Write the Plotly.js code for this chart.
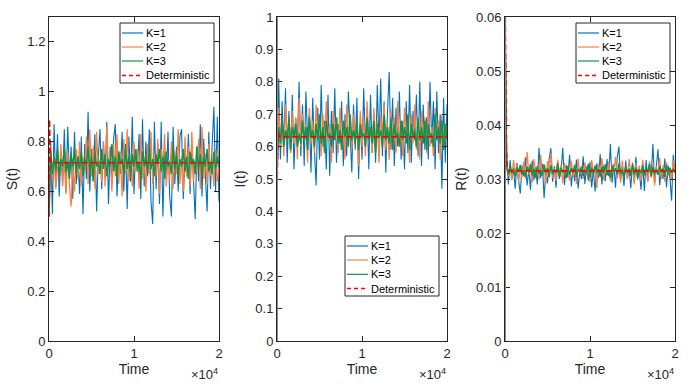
<!DOCTYPE html>
<html>
<head>
<meta charset="utf-8">
<script src="https://cdn.plot.ly/plotly-3.0.1.min.js"></script>
<style>
  body { margin: 0; background: #fff; }
  #plot { width: 694px; height: 389px; }
</style>
</head>
<body>
<div id="plot"></div>
<script>
// time grid: samples every 200 time units from 0 to 20000 (x0/dx on traces)
const tStep = 200;
const xTickVals = [0, 10000, 20000];
const xTickText = ['0', '1', '2'];
const legendNames = ['K=1', 'K=2', 'K=3', 'Deterministic'];

// ---- S(t) ----
const sK1 = [0.50,
  0.80,0.51,0.87,0.62,0.83,0.58,0.76,0.64,0.85,0.60,
  0.86,0.66,0.78,0.57,0.84,0.63,0.74,0.59,0.82,0.51,
  0.79,0.65,0.92,0.60,0.77,0.68,0.83,0.52,0.74,0.85,
  0.61,0.80,0.66,0.88,0.55,0.78,0.63,0.81,0.87,0.58,
  0.76,0.67,0.84,0.60,0.79,0.53,0.82,0.64,0.90,0.59,
  0.77,0.69,0.83,0.57,0.89,0.62,0.80,0.66,0.85,0.56,
  0.47,0.88,0.61,0.79,0.55,0.88,0.50,0.76,0.65,0.84,
  0.58,0.50,0.86,0.63,0.78,0.60,0.82,0.85,0.57,0.74,
  0.66,0.83,0.59,0.80,0.62,0.49,0.78,0.64,0.87,0.58,
  0.81,0.67,0.52,0.84,0.61,0.79,0.94,0.60,0.90,0.56];
const sK2 = [0.50,
  0.78,0.64,0.74,0.61,0.70,0.66,0.79,0.62,0.73,0.59,
  0.76,0.63,0.54,0.71,0.60,0.77,0.65,0.80,0.62,0.74,
  0.68,0.82,0.63,0.85,0.66,0.78,0.61,0.84,0.67,0.73,
  0.64,0.80,0.62,0.86,0.69,0.75,0.60,0.79,0.66,0.83,
  0.63,0.76,0.58,0.81,0.67,0.85,0.64,0.72,0.62,0.80,
  0.68,0.77,0.61,0.83,0.65,0.74,0.60,0.79,0.67,0.84,
  0.63,0.75,0.66,0.81,0.59,0.77,0.69,0.83,0.62,0.73,
  0.65,0.80,0.61,0.76,0.67,0.85,0.63,0.74,0.60,0.82,
  0.66,0.78,0.62,0.84,0.64,0.72,0.68,0.81,0.61,0.86,
  0.65,0.75,0.63,0.79,0.66,0.73,0.62,0.77,0.64,0.70];
const sK3 = [0.50,
  0.76,0.67,0.74,0.69,0.77,0.66,0.73,0.70,0.78,0.68,
  0.72,0.65,0.75,0.70,0.77,0.67,0.74,0.69,0.76,0.66,
  0.73,0.71,0.78,0.68,0.74,0.64,0.76,0.70,0.72,0.67,
  0.77,0.69,0.75,0.66,0.73,0.70,0.79,0.68,0.74,0.65,
  0.76,0.71,0.73,0.67,0.78,0.69,0.74,0.66,0.75,0.70,
  0.77,0.68,0.72,0.65,0.76,0.70,0.74,0.67,0.78,0.69,
  0.73,0.66,0.75,0.71,0.77,0.68,0.74,0.65,0.76,0.70,
  0.72,0.67,0.78,0.69,0.75,0.66,0.73,0.70,0.77,0.68,
  0.74,0.65,0.76,0.71,0.73,0.67,0.78,0.69,0.75,0.66,
  0.74,0.70,0.77,0.68,0.72,0.67,0.76,0.69,0.74,0.70];
const sDetT = [0, 60, 150, 300, 20000];
const sDet = [0.50, 0.89, 0.74, 0.715, 0.715];

// ---- I(t) ----
const iK1 = [0.50,
  0.81,0.56,0.74,0.60,0.78,0.55,0.71,0.58,0.76,0.53,
  0.69,0.61,0.80,0.57,0.73,0.54,0.77,0.62,0.70,0.52,
  0.75,0.59,0.48,0.72,0.56,0.79,0.60,0.68,0.53,0.76,
  0.51,0.71,0.58,0.78,0.55,0.67,0.61,0.74,0.54,0.70,
  0.57,0.77,0.62,0.52,0.73,0.59,0.75,0.50,0.69,0.56,
  0.78,0.60,0.72,0.53,0.76,0.58,0.70,0.55,0.79,0.61,
  0.81,0.57,0.74,0.52,0.71,0.83,0.59,0.75,0.54,0.72,
  0.60,0.77,0.56,0.68,0.53,0.74,0.58,0.79,0.55,0.71,
  0.62,0.76,0.57,0.80,0.54,0.73,0.59,0.69,0.56,0.80,
  0.61,0.74,0.53,0.77,0.58,0.70,0.47,0.75,0.55,0.73];
const iK2 = [0.50,
  0.72,0.60,0.68,0.57,0.73,0.62,0.66,0.58,0.71,0.61,
  0.69,0.56,0.75,0.60,0.70,0.63,0.67,0.55,0.72,0.61,
  0.68,0.58,0.73,0.64,0.66,0.57,0.70,0.60,0.74,0.62,
  0.67,0.55,0.71,0.63,0.69,0.58,0.72,0.61,0.66,0.56,
  0.73,0.62,0.68,0.59,0.70,0.64,0.67,0.54,0.71,0.60,
  0.69,0.57,0.74,0.62,0.66,0.58,0.72,0.61,0.68,0.55,
  0.70,0.63,0.73,0.59,0.67,0.56,0.71,0.62,0.69,0.58,
  0.74,0.60,0.66,0.57,0.72,0.63,0.68,0.55,0.70,0.61,
  0.73,0.59,0.67,0.56,0.71,0.62,0.69,0.58,0.74,0.60,
  0.66,0.57,0.72,0.63,0.68,0.56,0.70,0.61,0.67,0.60];
const iK3 = [0.52,
  0.66,0.61,0.68,0.60,0.65,0.62,0.69,0.59,0.66,0.63,
  0.67,0.60,0.64,0.61,0.68,0.62,0.66,0.59,0.69,0.63,
  0.65,0.60,0.67,0.62,0.70,0.61,0.66,0.58,0.68,0.63,
  0.64,0.60,0.67,0.62,0.69,0.61,0.65,0.59,0.68,0.63,
  0.66,0.60,0.70,0.62,0.65,0.61,0.68,0.59,0.67,0.63,
  0.64,0.60,0.69,0.62,0.66,0.61,0.68,0.58,0.67,0.63,
  0.65,0.60,0.70,0.62,0.66,0.61,0.69,0.59,0.67,0.63,
  0.64,0.60,0.68,0.62,0.66,0.61,0.70,0.59,0.67,0.63,
  0.65,0.60,0.69,0.62,0.66,0.61,0.68,0.59,0.67,0.63,
  0.64,0.60,0.70,0.62,0.66,0.61,0.68,0.59,0.67,0.62];
const iDetT = [0, 40, 120, 300, 20000];
const iDet = [0.45, 0.60, 0.645, 0.63, 0.63];

// ---- R(t) ----
const rK1 = [0.060,
  0.0345,0.0290,0.0335,0.0300,0.0320,0.0282,0.0330,0.0296,0.0273,0.0325,
  0.0305,0.0340,0.0288,0.0318,0.0280,0.0334,0.0298,0.0322,0.0290,0.0358,
  0.0302,0.0328,0.0265,0.0315,0.0292,0.0338,0.0357,0.0295,0.0324,0.0284,
  0.0330,0.0300,0.0317,0.0358,0.0289,0.0326,0.0303,0.0345,0.0286,0.0320,
  0.0296,0.0336,0.0282,0.0314,0.0300,0.0342,0.0291,0.0323,0.0297,0.0332,
  0.0285,0.0318,0.0277,0.0329,0.0302,0.0346,0.0290,0.0325,0.0296,0.0337,
  0.0305,0.0365,0.0293,0.0327,0.0284,0.0340,0.0360,0.0298,0.0321,0.0287,
  0.0334,0.0301,0.0319,0.0283,0.0330,0.0294,0.0341,0.0299,0.0316,0.0280,
  0.0328,0.0278,0.0335,0.0297,0.0322,0.0306,0.0365,0.0292,0.0326,0.0355,
  0.0288,0.0319,0.0300,0.0338,0.0285,0.0324,0.0302,0.0260,0.0345,0.0310];
const rK2 = [0.060,
  0.0330,0.0305,0.0322,0.0298,0.0335,0.0310,0.0326,0.0295,0.0318,0.0304,
  0.0332,0.0300,0.0350,0.0308,0.0324,0.0293,0.0337,0.0311,0.0320,0.0299,
  0.0345,0.0306,0.0327,0.0290,0.0333,0.0312,0.0348,0.0302,0.0321,0.0296,
  0.0336,0.0309,0.0325,0.0292,0.0330,0.0314,0.0319,0.0297,0.0334,0.0305,
  0.0323,0.0291,0.0338,0.0310,0.0320,0.0300,0.0331,0.0307,0.0326,0.0294,
  0.0335,0.0311,0.0318,0.0283,0.0328,0.0304,0.0339,0.0298,0.0322,0.0308,
  0.0332,0.0296,0.0327,0.0312,0.0341,0.0301,0.0319,0.0293,0.0334,0.0306,
  0.0324,0.0299,0.0337,0.0310,0.0321,0.0290,0.0330,0.0305,0.0325,0.0297,
  0.0336,0.0309,0.0318,0.0294,0.0333,0.0303,0.0328,0.0288,0.0322,0.0311,
  0.0339,0.0300,0.0326,0.0295,0.0331,0.0307,0.0319,0.0298,0.0334,0.0312];
const rK3 = [0.060,
  0.0320,0.0308,0.0325,0.0311,0.0318,0.0305,0.0322,0.0313,0.0326,0.0309,
  0.0317,0.0304,0.0323,0.0312,0.0328,0.0307,0.0319,0.0302,0.0324,0.0310,
  0.0316,0.0306,0.0327,0.0312,0.0320,0.0303,0.0325,0.0309,0.0318,0.0311,
  0.0329,0.0305,0.0321,0.0313,0.0316,0.0302,0.0324,0.0308,0.0320,0.0311,
  0.0326,0.0304,0.0319,0.0312,0.0323,0.0306,0.0317,0.0310,0.0328,0.0303,
  0.0321,0.0309,0.0325,0.0312,0.0318,0.0305,0.0322,0.0311,0.0327,0.0307,
  0.0316,0.0302,0.0324,0.0313,0.0320,0.0308,0.0329,0.0310,0.0317,0.0304,
  0.0323,0.0312,0.0319,0.0306,0.0326,0.0309,0.0321,0.0303,0.0318,0.0311,
  0.0325,0.0307,0.0320,0.0313,0.0328,0.0305,0.0322,0.0310,0.0317,0.0308,
  0.0324,0.0312,0.0319,0.0304,0.0326,0.0309,0.0321,0.0311,0.0318,0.0314];
const rDetT = [0, 60, 150, 300, 500, 20000];
const rDet = [0.070, 0.045, 0.035, 0.0318, 0.0315, 0.0315];

const colors = ['#0072BD', '#FF7F3F', '#129448', '#FF0000'];
const widths = [1.1, 1.3, 1.5];
const axisColor = '#262626';
const fontFam = 'Liberation Sans, Arial, sans-serif';
const detDash = '6px,3px';

function panelTraces(k1, k2, k3, detT, det, n) {
  const xa = n === 1 ? 'x' : 'x' + n;
  const ya = n === 1 ? 'y' : 'y' + n;
  const out = [k1, k2, k3].map((s, j) => ({
    y: s, x0: 0, dx: tStep,
    type: 'scatter', mode: 'lines',
    name: legendNames[j], showlegend: false,
    xaxis: xa, yaxis: ya,
    line: {color: colors[j], width: widths[j]}
  }));
  out.push({
    x: detT, y: det,
    type: 'scatter', mode: 'lines',
    name: legendNames[3], showlegend: false,
    xaxis: xa, yaxis: ya,
    line: {color: colors[3], width: 1.6, dash: detDash}
  });
  return out;
}

const data = [
  ...panelTraces(sK1, sK2, sK3, sDetT, sDet, 1),
  ...panelTraces(iK1, iK2, iK3, iDetT, iDet, 2),
  ...panelTraces(rK1, rK2, rK3, rDetT, rDet, 3)
];

const W = 694, H = 389;
const yDom = [1 - 341 / H, 1 - 17 / H];

function xAxis(left, right, anchor) {
  return {
    domain: [left / W, right / W], anchor: anchor,
    range: [0, 20000], tickvals: xTickVals, ticktext: xTickText,
    showline: true, mirror: 'ticks', linecolor: axisColor, linewidth: 1,
    ticks: 'inside', ticklen: 5, tickcolor: axisColor,
    showgrid: false, zeroline: false,
    tickfont: {family: fontFam, size: 13, color: axisColor},
    title: {text: 'Time', font: {family: fontFam, size: 14, color: axisColor}, standoff: 4}
  };
}
function yAxis(anchor, range, dtick, label) {
  return {
    domain: yDom, anchor: anchor,
    range: range, dtick: dtick, tick0: 0,
    showline: true, mirror: 'ticks', linecolor: axisColor, linewidth: 1,
    ticks: 'inside', ticklen: 5, tickcolor: axisColor,
    showgrid: false, zeroline: false,
    tickfont: {family: fontFam, size: 13, color: axisColor},
    title: {text: label, font: {family: fontFam, size: 14, color: axisColor}, standoff: 6}
  };
}

// hand-placed legend boxes (pixel left / top of each box)
const shapes = [];
const annotations = [];
function legendBox(left, top, rowYs) {
  shapes.push({
    type: 'rect', layer: 'above', xref: 'paper', yref: 'paper',
    x0: left / W, x1: (left + 94) / W, y0: 1 - top / H, y1: 1 - (top + 60) / H,
    fillcolor: '#ffffff', line: {color: axisColor, width: 1}
  });
  legendNames.forEach((nm, j) => {
    const yc = 1 - rowYs[j] / H;
    shapes.push({
      type: 'line', layer: 'above', xref: 'paper', yref: 'paper',
      x0: (left + 2) / W, x1: (left + 23) / W, y0: yc, y1: yc,
      line: {color: colors[j], width: j === 3 ? 1.6 : 1.2, dash: j === 3 ? '4px,3px' : 'solid'}
    });
    annotations.push({
      xref: 'paper', yref: 'paper', x: (left + 24) / W, y: yc,
      xanchor: 'left', yanchor: 'middle', showarrow: false,
      text: nm, font: {family: fontFam, size: 11, color: '#000000'}
    });
  });
}
legendBox(120, 23, [33, 47, 61, 75.5]);
legendBox(345, 236, [246, 260, 274.3, 288.5]);
legendBox(576, 23, [33, 47, 61, 75.5]);

// the x10^4 multiplier under each time axis
[219, 447, 675].forEach(xr => annotations.push({
  xref: 'paper', yref: 'paper',
  x: (xr - 15) / W, y: 1 - 374 / H,
  xanchor: 'center', yanchor: 'middle', showarrow: false,
  text: '\u00d710<sup>4</sup>',
  font: {family: fontFam, size: 13, color: axisColor}
}));

// thicker grey left edge in the I and R panels
[2, 3].forEach(n => shapes.push({
  type: 'line', layer: 'above',
  xref: 'x' + n, yref: 'y' + n + ' domain',
  x0: 0, x1: 0, y0: 0, y1: 1,
  line: {color: '#8a8a8a', width: 2}
}));

const layout = {
  width: W, height: H,
  margin: {l: 0, r: 0, t: 0, b: 0},
  paper_bgcolor: '#ffffff', plot_bgcolor: '#ffffff',
  font: {family: fontFam, color: axisColor},
  showlegend: false,
  xaxis: xAxis(49, 219, 'y'),
  yaxis: yAxis('x', [0, 1.3], 0.2, 'S(t)'),
  xaxis2: xAxis(277, 447, 'y2'),
  yaxis2: yAxis('x2', [0, 1], 0.1, 'I(t)'),
  xaxis3: xAxis(505, 675, 'y3'),
  yaxis3: yAxis('x3', [0, 0.06], 0.01, 'R(t)'),
  shapes: shapes,
  annotations: annotations
};

Plotly.newPlot('plot', data, layout, {displayModeBar: false, staticPlot: true});
</script>
</body>
</html>
